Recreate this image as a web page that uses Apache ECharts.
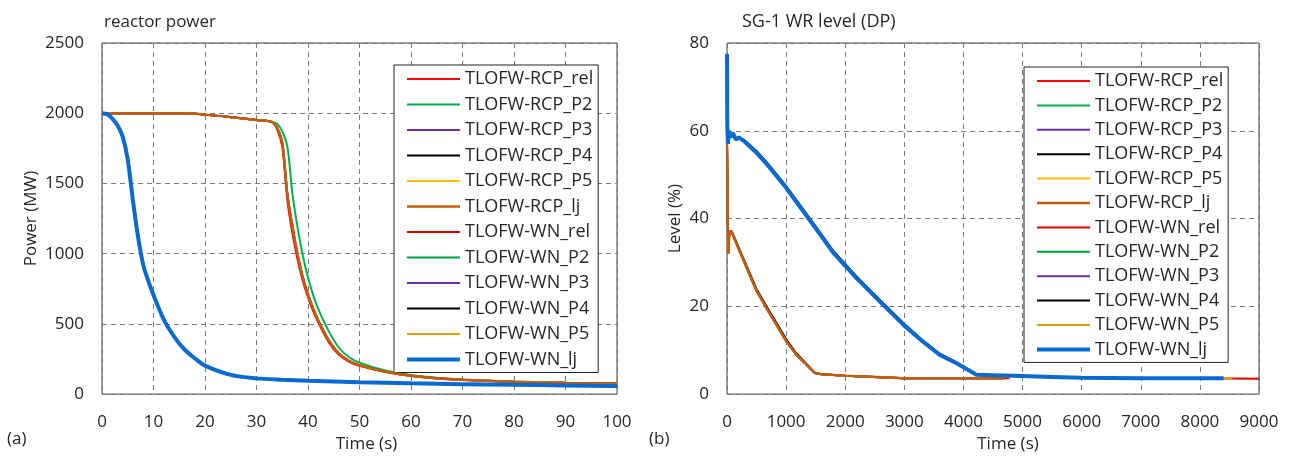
<!DOCTYPE html>
<html><head><meta charset="utf-8">
<script src="https://cdn.jsdelivr.net/npm/echarts/dist/echarts.min.js"></script>
<style>html,body{margin:0;padding:0;background:#fff}#c{width:1291px;height:458px}</style>
</head><body><div id="c"></div><script>
// ---------- names ----------
const seriesNames = ['TLOFW-RCP_rel','TLOFW-RCP_P2','TLOFW-RCP_P3','TLOFW-RCP_P4','TLOFW-RCP_P5','TLOFW-RCP_lj',
  'TLOFW-WN_rel','TLOFW-WN_P2','TLOFW-WN_P3','TLOFW-WN_P4','TLOFW-WN_P5','TLOFW-WN_lj'];
// ---------- (a) reactor power ----------
const powerTimeRCP = [0,5,10,16,20,25,30,33,34,35,36,37,38,39,40,41,42,44,46,48,50,55,60,65,70,80,90,100];
const powerRCP_rel = [2000,2000,2000,2000,1990,1972,1952,1935,1885,1760,1380,1140,955,805,690,590,510,372,280,230,201,157,128,111,100,87,79,74];
const powerRCP_P2  = [2000,2000,2000,2000,1990,1972,1952,1938,1925,1870,1760,1420,1180,985,830,705,605,450,330,262,224,168,136,116,104,89,80,75];
const powerRCP_P3  = [2000,2000,2000,2000,1990,1972,1952,1938,1895,1790,1420,1190,990,830,710,610,525,385,290,236,205,160,130,113,102,88,80,75];
const powerRCP_P4  = [2000,2000,2000,2000,1990,1972,1952,1938,1895,1790,1420,1190,990,830,710,610,525,385,290,236,205,160,130,113,102,88,80,75];
const powerRCP_P5  = [2000,2000,2000,2000,1990,1972,1952,1938,1895,1790,1420,1190,990,830,710,610,525,385,290,236,205,160,130,113,102,88,80,75];
const powerRCP_lj  = [2000,2000,2000,2000,1990,1972,1952,1938,1895,1790,1420,1190,990,830,710,610,525,385,290,236,205,160,130,113,102,88,80,75];
const powerTimeWN  = [0,1,2,3,4,5,6,7,8,9,10,12,14,16,18,20,25,30,35,40,50,60,70,80,90,100];
const powerWN_rel  = [2000,1992,1962,1915,1835,1670,1380,1120,920,805,705,530,410,318,255,203,137,112,102,95,85,77,71,66,62,58];
const powerWN_P2   = [2000,1992,1962,1915,1835,1670,1380,1120,920,805,705,530,410,318,255,203,137,112,102,95,85,77,71,66,62,58];
const powerWN_P3   = [2000,1992,1962,1915,1835,1670,1380,1120,920,805,705,530,410,318,255,203,137,112,102,95,85,77,71,66,62,58];
const powerWN_P4   = [2000,1992,1962,1915,1835,1670,1380,1120,920,805,705,530,410,318,255,203,137,112,102,95,85,77,71,66,62,58];
const powerWN_P5   = [2000,1992,1962,1915,1835,1670,1380,1120,920,805,705,530,410,318,255,203,137,112,102,95,85,77,71,66,62,58];
const powerWN_lj   = [2000,1992,1962,1915,1835,1670,1380,1120,920,805,705,530,410,318,255,203,137,112,102,95,85,77,71,66,62,58];
// ---------- (b) SG-1 WR level ----------
const levelTimeRCP    = [0,10,20,40,80,200,389,500,671,850,1009,1178,1300,1487,1600,2000,2500,3000,4000,4700];
const levelTimeRCPrel = [0,10,20,40,80,200,389,500,671,850,1009,1178,1300,1487,1600,2000,2500,3000,4000,4780];
const levelRCP_rel = [57,45,32,37,36.9,33,27,23.5,19.5,15.5,11.9,8.9,7.3,4.8,4.5,4.2,3.9,3.6,3.6,3.6];
const levelRCP_P2  = [57,45,32,37,36.9,33,27,23.5,19.5,15.5,11.9,8.9,7.3,4.8,4.5,4.2,3.9,3.6,3.6,3.6];
const levelRCP_P3  = [57,45,32,37,36.9,33,27,23.5,19.5,15.5,11.9,8.9,7.3,4.8,4.5,4.2,3.9,3.6,3.6,3.6];
const levelRCP_P4  = [57,45,32,37,37.1,33.3,27.4,23.9,19.9,15.9,12.3,9.2,7.5,4.9,4.5,4.2,3.9,3.6,3.6,3.6];
const levelRCP_P5  = [57,45,32,37,36.9,33,27,23.5,19.5,15.5,11.9,8.9,7.3,4.8,4.5,4.2,3.9,3.6,3.6,3.6];
const levelRCP_lj  = [57,45,32,37,36.9,33,27,23.5,19.5,15.5,11.9,8.9,7.3,4.8,4.5,4.2,3.9,3.6,3.6,3.6];
const levelTimeWN    = [0,5,15,30,60,100,150,200,300,500,700,1000,1500,1800,2200,2600,3000,3300,3600,3900,4220,4500,5000,5500,6000,7000,8000,8400];
const levelTimeWNp5  = [0,5,15,30,60,100,150,200,300,500,700,1000,1500,1800,2200,2600,3000,3300,3600,3900,4220,4500,5000,5500,6000,7000,8000,8550];
const levelTimeWNrel = [0,5,15,30,60,100,150,200,300,500,700,1000,1500,1800,2200,2600,3000,3300,3600,3900,4220,4500,5000,5500,6000,7000,8000,9000];
const levelWN_rel = [68,60,57,59.5,58.5,59.5,58,58.5,57.5,55,52,47,37.8,32.2,26.3,20.9,15.6,12.1,8.9,6.9,4.4,4.3,4.1,3.9,3.7,3.6,3.6,3.5];
const levelWN_P2  = [68,60,57,59.5,58.5,59.5,58,58.5,57.5,55,52,47,37.8,32.2,26.3,20.9,15.6,12.1,8.9,6.9,4.4,4.3,4.1,3.9,3.7,3.6,3.6,3.6];
const levelWN_P3  = [68,60,57,59.5,58.5,59.5,58,58.5,57.5,55,52,47,37.8,32.2,26.3,20.9,15.6,12.1,8.9,6.9,4.4,4.3,4.1,3.9,3.7,3.6,3.6,3.6];
const levelWN_P4  = [68,60,57,59.5,58.5,59.5,58,58.5,57.8,55.4,52.4,47.4,38.2,32.6,26.7,21.3,16.0,12.4,9.2,7.1,4.5,4.3,4.1,3.9,3.7,3.6,3.6,3.6];
const levelWN_P5  = [68,60,57,59.5,58.5,59.5,58,58.5,57.5,55,52,47,37.8,32.2,26.3,20.9,15.6,12.1,8.9,6.9,4.4,4.3,4.1,3.9,3.7,3.6,3.6,3.6];
const levelWN_lj  = [77.5,61,57,60,58.5,59.5,58,58.5,57.5,55,52,47,37.8,32.2,26.3,20.9,15.6,12.1,8.9,6.9,4.4,4.3,4.1,3.9,3.7,3.6,3.6,3.6];
// ---------- axis ticks ----------
const powerTicks = {min:0, max:2500, interval:500};
const timeTicksA = {min:0, max:100, interval:10};
const levelTicks = {min:0, max:80, interval:20};
const timeTicksB = {min:0, max:9000, interval:1000};

// ---------- styles ----------
const colors = ['#FF0000','#00B050','#7030A0','#000000','#FFC000','#C55A11',
                '#E00000','#00A040','#6A329F','#000000','#D9A010','#0A6AD2'];
const widths = [2,2,2,2,2,2.4, 2,2,2,2,2,4];
const FONT = 'Open Sans';

function pairs(t, v){ return t.map((x,i)=>[x, v[i]]); }
const powerData = [
  [powerTimeRCP, powerRCP_rel],[powerTimeRCP, powerRCP_P2],[powerTimeRCP, powerRCP_P3],[powerTimeRCP, powerRCP_P4],[powerTimeRCP, powerRCP_P5],[powerTimeRCP, powerRCP_lj],
  [powerTimeWN, powerWN_rel],[powerTimeWN, powerWN_P2],[powerTimeWN, powerWN_P3],[powerTimeWN, powerWN_P4],[powerTimeWN, powerWN_P5],[powerTimeWN, powerWN_lj]];
const levelData = [
  [levelTimeRCPrel, levelRCP_rel],[levelTimeRCP, levelRCP_P2],[levelTimeRCP, levelRCP_P3],[levelTimeRCP, levelRCP_P4],[levelTimeRCP, levelRCP_P5],[levelTimeRCP, levelRCP_lj],
  [levelTimeWNrel, levelWN_rel],[levelTimeWN, levelWN_P2],[levelTimeWN, levelWN_P3],[levelTimeWN, levelWN_P4],[levelTimeWNp5, levelWN_P5],[levelTimeWN, levelWN_lj]];

const series = [];
seriesNames.forEach((n,i)=>{
  series.push({name:n, type:'line', xAxisIndex:0, yAxisIndex:0, symbol:'none', smooth:0.3,
    data:pairs(powerData[i][0], powerData[i][1]), lineStyle:{color:colors[i], width:widths[i]}, itemStyle:{color:colors[i]}, z:2+i, animation:false});
});
seriesNames.forEach((n,i)=>{
  series.push({name:n, type:'line', xAxisIndex:1, yAxisIndex:1, symbol:'none', smooth:false,
    data:pairs(levelData[i][0], levelData[i][1]), lineStyle:{color:colors[i], width:widths[i]}, itemStyle:{color:colors[i]}, z:2+i, animation:false});
});

const splitLine = {show:true, lineStyle:{color:'#7a7a7a', type:[5,4], width:1}};
const axisLabel = {fontSize:17, color:'#262626', fontFamily:FONT, margin:20, formatter:v=>String(v)};
const nameStyle = {fontSize:17, color:'#262626', fontFamily:FONT};
function legendCfg(left, top, gap){
  return {data:seriesNames, orient:'vertical', left:left, top:top, itemWidth:53, itemHeight:12, itemGap:gap,
    padding:[5,5,4,11], backgroundColor:'#fff', borderColor:'#222', borderWidth:1, borderRadius:0,
    lineStyle:{width:'inherit'}, itemStyle:{opacity:0},
    textStyle:{fontSize:18, color:'#262626', fontFamily:FONT, lineHeight:17, padding:[0,0,0,0]}, selectedMode:false};
}

const option = {
  backgroundColor:'#fff',
  animation:false,
  textStyle:{fontFamily:FONT},
  title:[
    {text:'reactor power', left:99, top:9, textStyle:{fontSize:17, fontWeight:'normal', color:'#262626', fontFamily:FONT}},
    {text:'SG-1 WR level (DP)', left:737, top:8, textStyle:{fontSize:18, fontWeight:'normal', color:'#262626', fontFamily:FONT}}
  ],
  graphic:[
    {type:'text', left:7, top:431, style:{text:'(a)', fontSize:17, fill:'#262626', fontFamily:FONT}},
    {type:'text', left:649, top:431, style:{text:'(b)', fontSize:17, fill:'#262626', fontFamily:FONT}}
  ],
  grid:[
    {left:102, top:43, width:515, height:353, show:true, borderColor:'#404040', borderWidth:1, backgroundColor:'transparent', containLabel:false},
    {left:727, top:43, width:532, height:353, show:true, borderColor:'#404040', borderWidth:1, backgroundColor:'transparent', containLabel:false}
  ],
  xAxis:[
    {type:'value', gridIndex:0, ...timeTicksA, name:'Time (s)', nameLocation:'middle', nameGap:36, nameTextStyle:{...nameStyle, padding:[0,0,0,14]},
     axisLine:{show:false}, axisTick:{show:false}, axisLabel, splitLine},
    {type:'value', gridIndex:1, ...timeTicksB, name:'Time (s)', nameLocation:'middle', nameGap:36, nameTextStyle:{...nameStyle, padding:[0,0,0,30]},
     axisLine:{show:false}, axisTick:{show:false}, axisLabel, splitLine}
  ],
  yAxis:[
    {type:'value', gridIndex:0, ...powerTicks, name:'Power (MW)', nameLocation:'middle', nameGap:62, nameTextStyle:nameStyle,
     axisLine:{show:false}, axisTick:{show:false}, axisLabel:{...axisLabel, margin:18}, splitLine},
    {type:'value', gridIndex:1, ...levelTicks, name:'Level (%)', nameLocation:'middle', nameGap:43, nameTextStyle:nameStyle,
     axisLine:{show:false}, axisTick:{show:false}, axisLabel:{...axisLabel, margin:18}, splitLine}
  ],
  legend:[legendCfg(394, 65, 7.5), legendCfg(1024, 67, 6.4)],
  series
};
const chart = echarts.init(document.getElementById('c'), null, {renderer:'canvas'});
chart.setOption(option);
</script></body></html>
